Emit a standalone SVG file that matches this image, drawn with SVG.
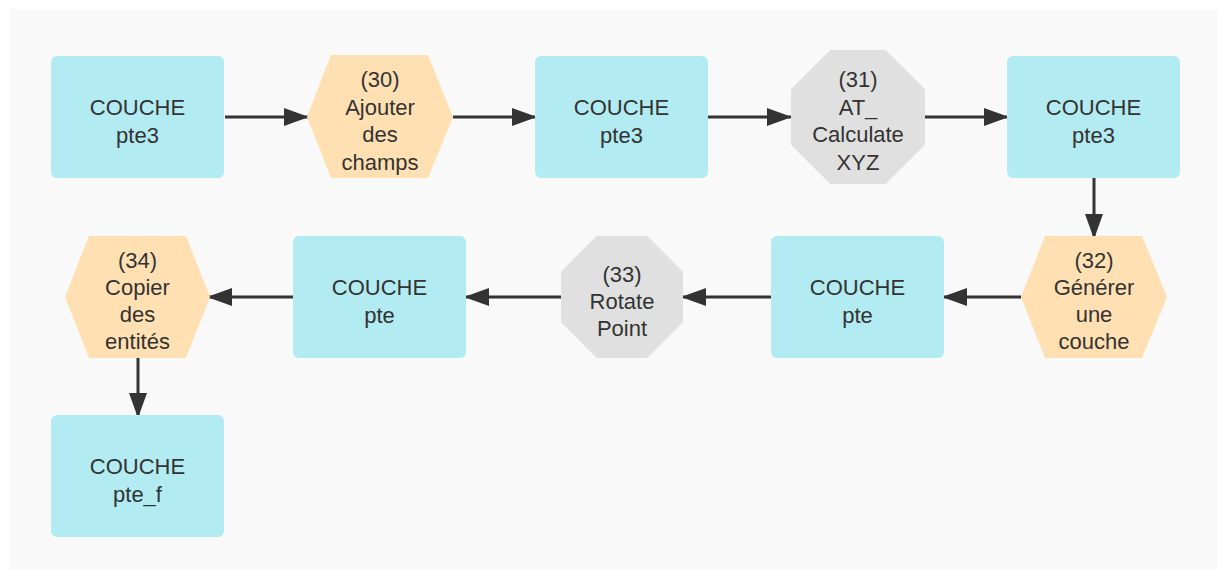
<svg xmlns="http://www.w3.org/2000/svg" width="1217" height="570" viewBox="0 0 1217 570">
  <style>
    .box { fill: #b2ebf2; }
    .hex { fill: #ffe0b2; }
    .oct { fill: #e0e0e0; }
    .lbl { font-family: "Liberation Sans", Arial, sans-serif; font-size: 22px; fill: #333333; text-anchor: middle; }
    .edge { stroke: #333333; stroke-width: 3; fill: none; }
  </style>
  <defs>
    <marker id="arrow" markerUnits="userSpaceOnUse" markerWidth="25" markerHeight="18" refX="25" refY="9" orient="auto">
      <path d="M0,0 L25,9 L0,18 z" fill="#333333"/>
    </marker>
  </defs>
  <rect x="0" y="0" width="1217" height="570" fill="#ffffff"/>
  <rect x="10" y="9" width="1207" height="561" fill="#f9f9f9"/>

  <g id="connectors">
    <line class="edge" x1="225" y1="117" x2="309" y2="117" marker-end="url(#arrow)"/>
    <line class="edge" x1="453" y1="117" x2="537" y2="117" marker-end="url(#arrow)"/>
    <line class="edge" x1="708" y1="117" x2="792" y2="117" marker-end="url(#arrow)"/>
    <line class="edge" x1="925" y1="117" x2="1009" y2="117" marker-end="url(#arrow)"/>
    <line class="edge" x1="1094" y1="178" x2="1094" y2="239" marker-end="url(#arrow)"/>
    <line class="edge" x1="1021" y1="297" x2="942" y2="297" marker-end="url(#arrow)"/>
    <line class="edge" x1="771" y1="297" x2="681" y2="297" marker-end="url(#arrow)"/>
    <line class="edge" x1="561" y1="297" x2="464" y2="297" marker-end="url(#arrow)"/>
    <line class="edge" x1="293" y1="297" x2="207" y2="297" marker-end="url(#arrow)"/>
    <line class="edge" x1="138" y1="358" x2="138" y2="418" marker-end="url(#arrow)"/>
  </g>

  <g id="n1">
    <rect class="box" x="51" y="56" width="173" height="122" rx="6"/>
    <text class="lbl" x="137.5" y="115">COUCHE</text>
    <text class="lbl" x="137.5" y="142.5">pte3</text>
  </g>
  <g id="n2">
    <polygon class="hex" points="331,55 428,55 453,117 428,178 331,178 307,117"/>
    <text class="lbl" x="380" y="87">(30)</text>
    <text class="lbl" x="380" y="114.5">Ajouter</text>
    <text class="lbl" x="380" y="142">des</text>
    <text class="lbl" x="380" y="169.5">champs</text>
  </g>
  <g id="n3">
    <rect class="box" x="535" y="56" width="173" height="122" rx="6"/>
    <text class="lbl" x="621.5" y="115">COUCHE</text>
    <text class="lbl" x="621.5" y="142.5">pte3</text>
  </g>
  <g id="n4">
    <polygon class="oct" points="830.3,50 885.7,50 925,89.3 925,144.7 885.7,184 830.3,184 791,144.7 791,89.3"/>
    <text class="lbl" x="858" y="87">(31)</text>
    <text class="lbl" x="858" y="114.5">AT_</text>
    <text class="lbl" x="858" y="142">Calculate</text>
    <text class="lbl" x="858" y="169.5">XYZ</text>
  </g>
  <g id="n5">
    <rect class="box" x="1007" y="56" width="173" height="122" rx="6"/>
    <text class="lbl" x="1093.5" y="115">COUCHE</text>
    <text class="lbl" x="1093.5" y="142.5">pte3</text>
  </g>
  <g id="n6">
    <polygon class="hex" points="1045,236 1142,236 1167,297 1142,358 1045,358 1021,297"/>
    <text class="lbl" x="1094" y="268">(32)</text>
    <text class="lbl" x="1094" y="295">Générer</text>
    <text class="lbl" x="1094" y="322">une</text>
    <text class="lbl" x="1094" y="349">couche</text>
  </g>
  <g id="n7">
    <rect class="box" x="771" y="236" width="173" height="122" rx="6"/>
    <text class="lbl" x="857.5" y="295">COUCHE</text>
    <text class="lbl" x="857.5" y="322.5">pte</text>
  </g>
  <g id="n8">
    <polygon class="oct" points="596.7,236 647.3,236 683,271.7 683,322.3 647.3,358 596.7,358 561,322.3 561,271.7"/>
    <text class="lbl" x="622" y="281.5">(33)</text>
    <text class="lbl" x="622" y="309">Rotate</text>
    <text class="lbl" x="622" y="336">Point</text>
  </g>
  <g id="n9">
    <rect class="box" x="293" y="236" width="173" height="122" rx="6"/>
    <text class="lbl" x="379.5" y="295">COUCHE</text>
    <text class="lbl" x="379.5" y="322.5">pte</text>
  </g>
  <g id="n10">
    <polygon class="hex" points="89,236 186,236 210,297 186,358 89,358 65,297"/>
    <text class="lbl" x="137.5" y="268">(34)</text>
    <text class="lbl" x="137.5" y="295">Copier</text>
    <text class="lbl" x="137.5" y="322">des</text>
    <text class="lbl" x="137.5" y="349">entités</text>
  </g>
  <g id="n11">
    <rect class="box" x="51" y="415" width="173" height="122" rx="6"/>
    <text class="lbl" x="137.5" y="474">COUCHE</text>
    <text class="lbl" x="137.5" y="501.5">pte_f</text>
  </g>
</svg>
